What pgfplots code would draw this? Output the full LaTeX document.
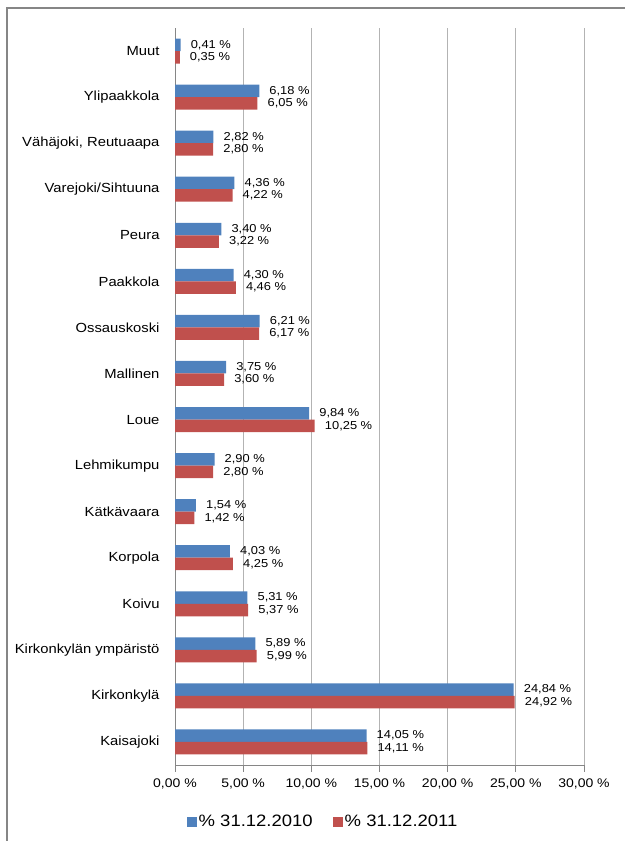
\documentclass[border=0pt]{standalone}
\usepackage{pgfplots}
\pgfplotsset{compat=1.18}
\usepackage{fontspec}
\setmainfont{Liberation Sans}[FakeStretch=1.12]
\definecolor{cblue}{HTML}{4F81BD}
\definecolor{cred}{HTML}{C0504D}
\definecolor{gridc}{HTML}{B3B3B3}
\definecolor{axc}{HTML}{868686}
\begin{document}
\begin{tikzpicture}
\useasboundingbox (0,0) rectangle (625bp,841bp);
\begin{axis}[
  at={(175bp,76bp)}, anchor=south west,
  scale only axis, width=409bp, height=737bp,
  xbar, bar width=12.5bp,
  xmin=0, xmax=30, ymin=-0.5, ymax=15.5,
  axis x line*=bottom, axis y line*=left,
  axis line style={axc, line width=0.8bp, -},
  xtick={0,5,...,30},
  xmajorgrids, grid style={gridc, line width=0.8bp},
  xtick style={axc, line width=0.8bp},
  tick align=outside,
  major tick length=7bp,
  xticklabel={\pgfmathprintnumber[fixed,fixed zerofill,precision=2,use comma]{\tick} \%},
  xticklabel style={font=\fontsize{12.5bp}{14bp}\selectfont, text=black, yshift=-3bp},
  /pgf/number format/assume math mode=true,
  ytick={0,...,15},
  yticklabels={Kaisajoki,Kirkonkylä,Kirkonkylän ympäristö,Koivu,Korpola,Kätkävaara,Lehmikumpu,Loue,Mallinen,Ossauskoski,Paakkola,Peura,Varejoki/Sihtuuna,{Vähäjoki, Reutuaapa},Ylipaakkola,Muut},
  ytick style={draw=none},
  minor ytick={-0.5,0.5,...,15.5},
  minor tick length=5bp,
  minor y tick style={axc, line width=0.8bp},
  yticklabel style={font=\fontsize{13.2bp}{15bp}\selectfont, text=black, xshift=-5bp},
  nodes near coords={\pgfmathprintnumber[fixed,fixed zerofill,precision=2,use comma]{\pgfplotspointmeta} \%},
  every node near coord/.append style={font=\fontsize{11.5bp}{13bp}\selectfont, text=black, anchor=west, xshift=7bp, inner sep=3bp},
  legend columns=2,
  legend style={at={(0.362,-0.0773)}, anchor=center, draw=none, fill=none,
    font=\fontsize{16.5bp}{18bp}\selectfont,
    /tikz/every even column/.append style={column sep=18bp}},
  legend image code/.code={\fill[#1] (0bp,-5bp) rectangle (10bp,5bp);},
]
\addplot[fill=cblue, draw=none, bar shift=6.25bp] coordinates {
(14.05,0) (24.84,1) (5.89,2) (5.31,3) (4.03,4) (1.54,5) (2.90,6) (9.84,7)
(3.75,8) (6.21,9) (4.30,10) (3.40,11) (4.36,12) (2.82,13) (6.18,14) (0.41,15)};
\addlegendentry{\% 31.12.2010}
\addplot[fill=cred, draw=none, bar shift=-6.25bp] coordinates {
(14.11,0) (24.92,1) (5.99,2) (5.37,3) (4.25,4) (1.42,5) (2.80,6) (10.25,7)
(3.60,8) (6.17,9) (4.46,10) (3.22,11) (4.22,12) (2.80,13) (6.05,14) (0.35,15)};
\addlegendentry{\% 31.12.2011}
\end{axis}
\draw[axc, line width=1.2bp] (7bp,0) -- (7bp,833bp) -- (625bp,833bp);
\end{tikzpicture}
\end{document}
